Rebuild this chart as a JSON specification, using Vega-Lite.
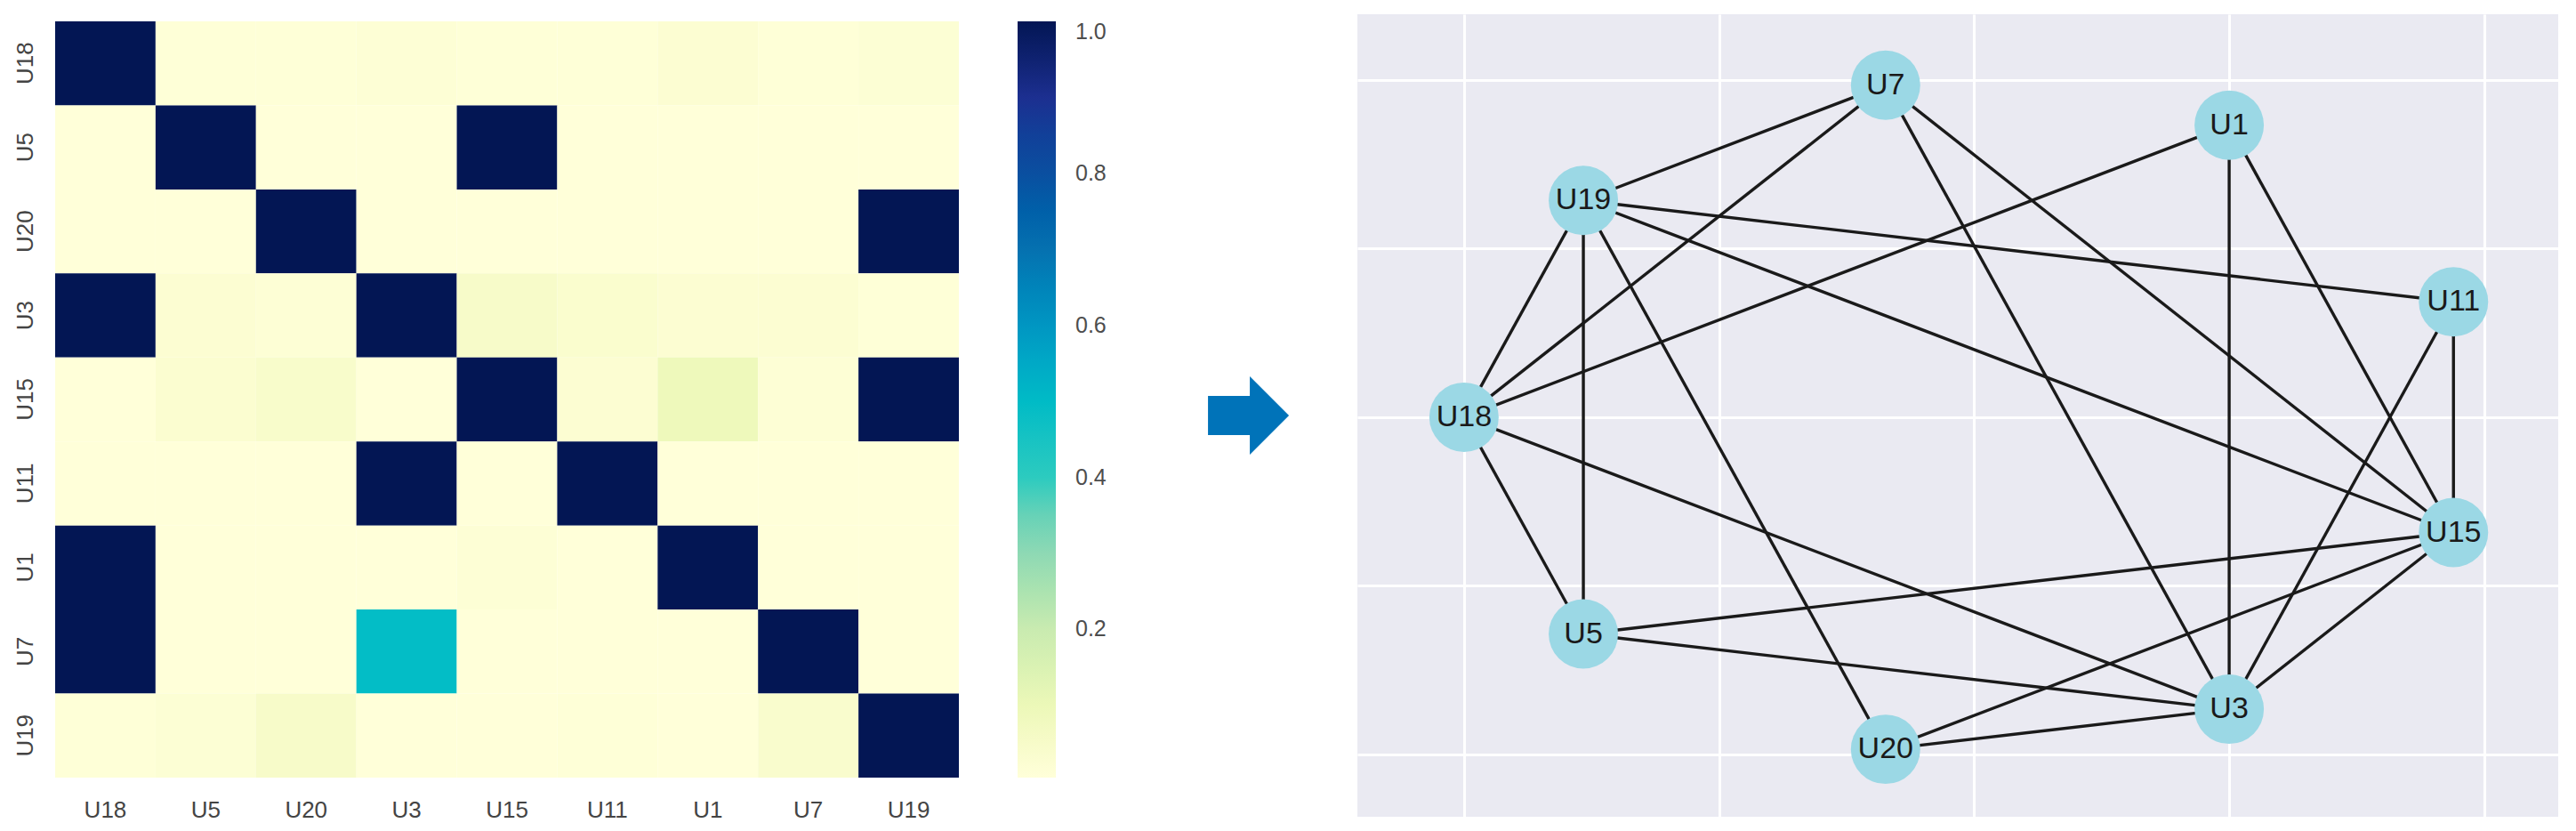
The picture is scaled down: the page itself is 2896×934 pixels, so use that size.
{
  "$schema": "https://vega.github.io/schema/vega-lite/v6.json",
  "background": "white",
  "padding": {"left": 14, "top": 16, "right": 0, "bottom": 0},
  "autosize": {"type": "pad"},
  "config": {"view": {"stroke": null}, "font": "Liberation Sans"},
  "spacing": 40,
  "bounds": "flush",
  "datasets": {
    "heat": [
      {"row": "U18", "col": "U18", "value": 1}, {"row": "U18", "col": "U5", "value": 0.01}, {"row": "U18", "col": "U20", "value": 0.01}, {"row": "U18", "col": "U3", "value": 0.015}, {"row": "U18", "col": "U15", "value": 0.01}, {"row": "U18", "col": "U11", "value": 0.01}, {"row": "U18", "col": "U1", "value": 0.025}, {"row": "U18", "col": "U7", "value": 0.01}, {"row": "U18", "col": "U19", "value": 0.02},
      {"row": "U5", "col": "U18", "value": 0.005}, {"row": "U5", "col": "U5", "value": 1}, {"row": "U5", "col": "U20", "value": 0.005}, {"row": "U5", "col": "U3", "value": 0.005}, {"row": "U5", "col": "U15", "value": 1}, {"row": "U5", "col": "U11", "value": 0.005}, {"row": "U5", "col": "U1", "value": 0.005}, {"row": "U5", "col": "U7", "value": 0.005}, {"row": "U5", "col": "U19", "value": 0.005},
      {"row": "U20", "col": "U18", "value": 0.005}, {"row": "U20", "col": "U5", "value": 0.005}, {"row": "U20", "col": "U20", "value": 1}, {"row": "U20", "col": "U3", "value": 0.005}, {"row": "U20", "col": "U15", "value": 0.005}, {"row": "U20", "col": "U11", "value": 0.005}, {"row": "U20", "col": "U1", "value": 0.005}, {"row": "U20", "col": "U7", "value": 0.005}, {"row": "U20", "col": "U19", "value": 1},
      {"row": "U3", "col": "U18", "value": 1}, {"row": "U3", "col": "U5", "value": 0.025}, {"row": "U3", "col": "U20", "value": 0.015}, {"row": "U3", "col": "U3", "value": 1}, {"row": "U3", "col": "U15", "value": 0.05}, {"row": "U3", "col": "U11", "value": 0.035}, {"row": "U3", "col": "U1", "value": 0.025}, {"row": "U3", "col": "U7", "value": 0.025}, {"row": "U3", "col": "U19", "value": 0.01},
      {"row": "U15", "col": "U18", "value": 0.005}, {"row": "U15", "col": "U5", "value": 0.03}, {"row": "U15", "col": "U20", "value": 0.045}, {"row": "U15", "col": "U3", "value": 0.005}, {"row": "U15", "col": "U15", "value": 1}, {"row": "U15", "col": "U11", "value": 0.025}, {"row": "U15", "col": "U1", "value": 0.09}, {"row": "U15", "col": "U7", "value": 0.015}, {"row": "U15", "col": "U19", "value": 1},
      {"row": "U11", "col": "U18", "value": 0.005}, {"row": "U11", "col": "U5", "value": 0.005}, {"row": "U11", "col": "U20", "value": 0.005}, {"row": "U11", "col": "U3", "value": 1}, {"row": "U11", "col": "U15", "value": 0.005}, {"row": "U11", "col": "U11", "value": 1}, {"row": "U11", "col": "U1", "value": 0.005}, {"row": "U11", "col": "U7", "value": 0.005}, {"row": "U11", "col": "U19", "value": 0.005},
      {"row": "U1", "col": "U18", "value": 1}, {"row": "U1", "col": "U5", "value": 0.005}, {"row": "U1", "col": "U20", "value": 0.005}, {"row": "U1", "col": "U3", "value": 0.005}, {"row": "U1", "col": "U15", "value": 0.015}, {"row": "U1", "col": "U11", "value": 0.005}, {"row": "U1", "col": "U1", "value": 1}, {"row": "U1", "col": "U7", "value": 0.005}, {"row": "U1", "col": "U19", "value": 0.005},
      {"row": "U7", "col": "U18", "value": 1}, {"row": "U7", "col": "U5", "value": 0.005}, {"row": "U7", "col": "U20", "value": 0.005}, {"row": "U7", "col": "U3", "value": 0.49}, {"row": "U7", "col": "U15", "value": 0.005}, {"row": "U7", "col": "U11", "value": 0.005}, {"row": "U7", "col": "U1", "value": 0.005}, {"row": "U7", "col": "U7", "value": 1}, {"row": "U7", "col": "U19", "value": 0.005},
      {"row": "U19", "col": "U18", "value": 0.01}, {"row": "U19", "col": "U5", "value": 0.02}, {"row": "U19", "col": "U20", "value": 0.05}, {"row": "U19", "col": "U3", "value": 0.005}, {"row": "U19", "col": "U15", "value": 0.005}, {"row": "U19", "col": "U11", "value": 0.01}, {"row": "U19", "col": "U1", "value": 0.005}, {"row": "U19", "col": "U7", "value": 0.04}, {"row": "U19", "col": "U19", "value": 1}
    ],
    "nodes": [
      {"name": "U18", "x": -1.0, "y": 0.0},
      {"name": "U19", "x": -0.766, "y": 0.6428},
      {"name": "U7", "x": -0.1736, "y": 0.9848},
      {"name": "U1", "x": 0.5, "y": 0.866},
      {"name": "U11", "x": 0.9397, "y": 0.342},
      {"name": "U15", "x": 0.9397, "y": -0.342},
      {"name": "U3", "x": 0.5, "y": -0.866},
      {"name": "U20", "x": -0.1736, "y": -0.9848},
      {"name": "U5", "x": -0.766, "y": -0.6428}
    ],
    "edges": [
      {"source": "U7", "target": "U19", "x": -0.1736, "y": 0.9848, "x2": -0.766, "y2": 0.6428},
      {"source": "U7", "target": "U18", "x": -0.1736, "y": 0.9848, "x2": -1.0, "y2": 0.0},
      {"source": "U7", "target": "U3", "x": -0.1736, "y": 0.9848, "x2": 0.5, "y2": -0.866},
      {"source": "U7", "target": "U15", "x": -0.1736, "y": 0.9848, "x2": 0.9397, "y2": -0.342},
      {"source": "U1", "target": "U18", "x": 0.5, "y": 0.866, "x2": -1.0, "y2": 0.0},
      {"source": "U1", "target": "U3", "x": 0.5, "y": 0.866, "x2": 0.5, "y2": -0.866},
      {"source": "U1", "target": "U15", "x": 0.5, "y": 0.866, "x2": 0.9397, "y2": -0.342},
      {"source": "U19", "target": "U18", "x": -0.766, "y": 0.6428, "x2": -1.0, "y2": 0.0},
      {"source": "U19", "target": "U5", "x": -0.766, "y": 0.6428, "x2": -0.766, "y2": -0.6428},
      {"source": "U19", "target": "U20", "x": -0.766, "y": 0.6428, "x2": -0.1736, "y2": -0.9848},
      {"source": "U19", "target": "U11", "x": -0.766, "y": 0.6428, "x2": 0.9397, "y2": 0.342},
      {"source": "U19", "target": "U15", "x": -0.766, "y": 0.6428, "x2": 0.9397, "y2": -0.342},
      {"source": "U11", "target": "U15", "x": 0.9397, "y": 0.342, "x2": 0.9397, "y2": -0.342},
      {"source": "U11", "target": "U3", "x": 0.9397, "y": 0.342, "x2": 0.5, "y2": -0.866},
      {"source": "U18", "target": "U5", "x": -1.0, "y": 0.0, "x2": -0.766, "y2": -0.6428},
      {"source": "U18", "target": "U3", "x": -1.0, "y": 0.0, "x2": 0.5, "y2": -0.866},
      {"source": "U15", "target": "U5", "x": 0.9397, "y": -0.342, "x2": -0.766, "y2": -0.6428},
      {"source": "U15", "target": "U20", "x": 0.9397, "y": -0.342, "x2": -0.1736, "y2": -0.9848},
      {"source": "U15", "target": "U3", "x": 0.9397, "y": -0.342, "x2": 0.5, "y2": -0.866},
      {"source": "U5", "target": "U3", "x": -0.766, "y": -0.6428, "x2": 0.5, "y2": -0.866},
      {"source": "U20", "target": "U3", "x": -0.1736, "y": -0.9848, "x2": 0.5, "y2": -0.866}
    ],
    "arrow": [{"x": 0.776, "y": 0.5}]
  },
  "hconcat": [
    {
      "width": 1016,
      "height": 866,
      "data": {"name": "heat"},
      "mark": {"type": "rect"},
      "encoding": {
        "x": {
          "field": "col", "type": "nominal",
          "sort": ["U18", "U5", "U20", "U3", "U15", "U11", "U1", "U7", "U19"],
          "scale": {"paddingInner": 0, "paddingOuter": 0},
          "axis": {"title": null, "ticks": false, "domain": false, "labelAngle": 0, "labelPadding": 15, "labelFontSize": 26, "labelColor": "#444444", "labelFont": "Liberation Sans"}
        },
        "y": {
          "field": "row", "type": "nominal",
          "sort": ["U18", "U5", "U20", "U3", "U15", "U11", "U1", "U7", "U19"],
          "scale": {"paddingInner": 0, "paddingOuter": 0.084706},
          "axis": {"title": null, "ticks": false, "domain": false, "labelAngle": -90, "labelAlign": "center", "labelBaseline": "bottom", "labelPadding": 21, "labelFontSize": 26, "labelColor": "#444444", "labelFont": "Liberation Sans"}
        },
        "color": {
          "field": "value", "type": "quantitative",
          "scale": {
            "domain": [0.005, 0.1, 0.2, 0.3, 0.4, 0.5, 0.6, 0.7, 0.8, 0.9, 1.0],
            "range": ["#ffffd9", "#ecf8b8", "#c9ebb0", "#8ed9b4", "#2ccbbf", "#00bbc6", "#0096c2", "#0571b0", "#0a4fa0", "#1c2f90", "#031654"]
          },
          "legend": {
            "orient": "none", "legendX": 1082, "legendY": 8,
            "direction": "vertical", "title": null,
            "gradientLength": 850, "gradientThickness": 43, "gradientStrokeWidth": 0,
            "values": [0.2, 0.4, 0.6, 0.8, 1.0],
            "format": ".1f",
            "labelOffset": 22, "labelFontSize": 25, "labelColor": "#4d4d4d", "labelFont": "Liberation Sans",
            "labelBaseline": "middle", "labelOverlap": false, "padding": 0
          }
        }
      }
    },
    {
      "width": 368,
      "height": 902,
      "data": {"name": "arrow"},
      "mark": {
        "type": "point",
        "shape": "M-1,-0.484L0.033,-0.484L0.033,-0.967L1,0L0.033,0.967L0.033,0.484L-1,0.484Z",
        "filled": true, "size": 8281, "color": "#0073b9", "opacity": 1
      },
      "encoding": {
        "x": {"field": "x", "type": "quantitative", "scale": {"domain": [0, 1]}, "axis": null},
        "y": {"field": "y", "type": "quantitative", "scale": {"domain": [0, 1]}, "axis": null}
      }
    },
    {
      "width": 1350,
      "height": 902,
      "view": {"fill": "#eaeaf2", "stroke": null},
      "encoding": {
        "x": {
          "field": "x", "type": "quantitative",
          "scale": {"domain": [-1.209, 1.145], "nice": false, "zero": false},
          "axis": {"values": [-1, -0.5, 0, 0.5, 1], "grid": true, "gridColor": "#ffffff", "gridWidth": 3, "gridOpacity": 1, "labels": false, "ticks": false, "domain": false, "title": null}
        },
        "y": {
          "field": "y", "type": "quantitative",
          "scale": {"domain": [-1.185, 1.195], "nice": false, "zero": false},
          "axis": {"values": [-1, -0.5, 0, 0.5, 1], "grid": true, "gridColor": "#ffffff", "gridWidth": 3, "gridOpacity": 1, "labels": false, "ticks": false, "domain": false, "title": null}
        }
      },
      "layer": [
        {
          "data": {"name": "edges"},
          "mark": {"type": "rule", "color": "#1a1a1a", "strokeWidth": 3.4},
          "encoding": {"x2": {"field": "x2"}, "y2": {"field": "y2"}}
        },
        {
          "data": {"name": "nodes"},
          "mark": {"type": "point", "shape": "circle", "filled": true, "size": 6082, "color": "#9bd8e5", "opacity": 1}
        },
        {
          "data": {"name": "nodes"},
          "mark": {"type": "text", "fontSize": 34, "color": "#1a1a1a", "align": "center", "baseline": "middle", "font": "Liberation Sans"},
          "encoding": {"text": {"field": "name"}}
        }
      ]
    }
  ]
}
